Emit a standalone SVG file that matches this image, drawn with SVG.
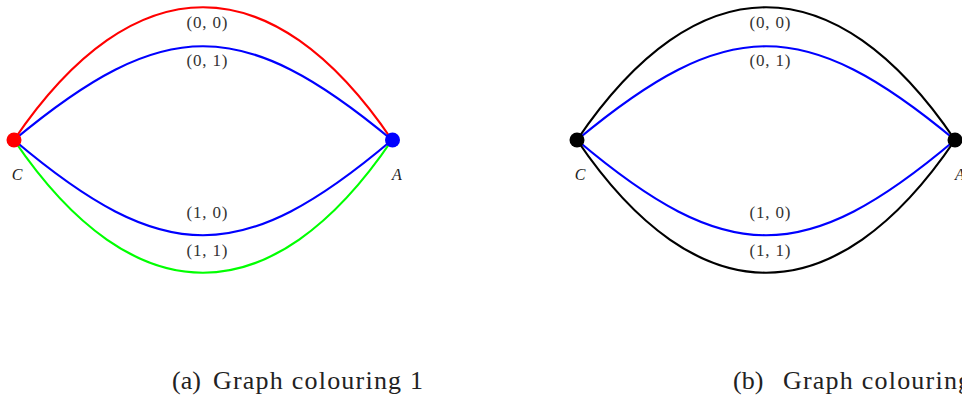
<svg xmlns="http://www.w3.org/2000/svg" width="962" height="401" viewBox="0 0 962 401">
<style>
.e{fill:none;stroke-width:2.2}
.lbl{font-family:"Liberation Serif","DejaVu Serif",serif;font-size:17px;fill:#333;text-anchor:middle}
.nl{font-family:"Liberation Serif","DejaVu Serif",serif;font-size:16px;font-style:italic;fill:#222;text-anchor:middle}
.cap{font-family:"Liberation Serif","DejaVu Serif",serif;font-size:26px;fill:#222}
</style>
<rect width="962" height="401" fill="#fff"/>
<g id="connectors">
<g id="edges-a">
<path class="e" stroke="#ff0000" d="M14,140 C134,-37 272,-37 392,140"/>
<path class="e" stroke="#0000ff" d="M14,140 C164,15 242,15 392,140"/>
<path class="e" stroke="#0000ff" d="M14,140 C164,267 242,267 392,140"/>
<path class="e" stroke="#00ff00" d="M14,140 C134,317 272,317 392,140"/>
</g>
<g id="edges-b">
<path class="e" stroke="#000" d="M577,140 C697,-37 835,-37 955,140"/>
<path class="e" stroke="#0000ff" d="M577,140 C727,15 805,15 955,140"/>
<path class="e" stroke="#0000ff" d="M577,140 C727,267 805,267 955,140"/>
<path class="e" stroke="#000" d="M577,140 C697,317 835,317 955,140"/>
</g>
</g>
<g id="edge-labels">
<text class="lbl" x="207" y="28" textLength="41" lengthAdjust="spacing">(0, 0)</text>
<text class="lbl" x="207" y="66" textLength="41" lengthAdjust="spacing">(0, 1)</text>
<text class="lbl" x="207" y="218" textLength="41" lengthAdjust="spacing">(1, 0)</text>
<text class="lbl" x="207" y="256" textLength="41" lengthAdjust="spacing">(1, 1)</text>
<text class="lbl" x="770" y="28" textLength="41" lengthAdjust="spacing">(0, 0)</text>
<text class="lbl" x="770" y="66" textLength="41" lengthAdjust="spacing">(0, 1)</text>
<text class="lbl" x="770" y="218" textLength="41" lengthAdjust="spacing">(1, 0)</text>
<text class="lbl" x="770" y="256" textLength="41" lengthAdjust="spacing">(1, 1)</text>
</g>
<g id="node-C-a"><circle cx="14" cy="140" r="7.5" fill="#ff0000"/><text class="nl" x="17" y="180">C</text></g>
<g id="node-A-a"><circle cx="392.5" cy="140" r="7.5" fill="#0000ff"/><text class="nl" x="397" y="180">A</text></g>
<g id="node-C-b"><circle cx="577" cy="140" r="7.5" fill="#000"/><text class="nl" x="580" y="180">C</text></g>
<g id="node-A-b"><circle cx="955" cy="140" r="7.5" fill="#000"/><text class="nl" x="960" y="180">A</text></g>
<g id="captions">
<text class="cap" x="172" y="389">(a)</text>
<text class="cap" x="213" y="389" textLength="210" lengthAdjust="spacing">Graph colouring 1</text>
<text class="cap" x="733" y="389">(b)</text>
<text class="cap" x="783" y="389" textLength="210" lengthAdjust="spacing">Graph colouring 2</text>
</g>
</svg>
